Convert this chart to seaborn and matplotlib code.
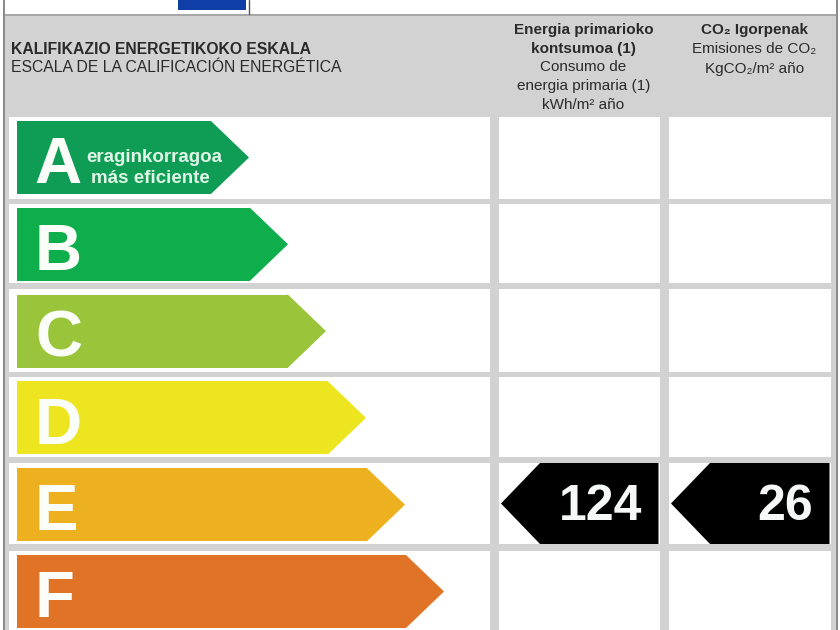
import matplotlib
matplotlib.use('Agg')
import matplotlib.pyplot as plt
from matplotlib.patches import Polygon, Rectangle
import pandas as pd
import seaborn as sns

# rating scale, arrow length in px
scale_letters = ['A', 'B', 'C', 'D', 'E', 'F']
scale_lengths = [232, 271, 309, 349, 388, 427]
rated_letter = 'E'
energy_value = 124
co2_value = 26

title_eu = 'KALIFIKAZIO ENERGETIKOKO ESKALA'
title_es = 'ESCALA DE LA CALIFICACIÓN ENERGÉTICA'
best_eu = 'eraginkorragoa'
best_es = 'más eficiente'

bar_colors = ['#0f9d56', '#0fae4c', '#9ac53a', '#ede51f', '#edb01f', '#e07325']
GREY = '#d2d2d2'
TIP = 38
PITCH = 86.8

sns.set_theme(style='white')
plt.rcParams['font.family'] = ['Liberation Sans', 'DejaVu Sans']

fig = plt.figure(figsize=(8.4, 6.3), dpi=100)

# page axes in px, y going down
ax = fig.add_axes([0, 0, 1, 1])
ax.set_xlim(0, 840)
ax.set_ylim(630, 0)
ax.axis('off')

ax.add_patch(Rectangle((3, 14), 834, 616, fc=GREY, ec='none'))
ax.add_patch(Rectangle((3, 14), 834, 2, fc='#a8a8a8', ec='none'))
ax.add_patch(Rectangle((3, 0), 2, 630, fc='#8c8c8c', ec='none'))
ax.add_patch(Rectangle((836, 0), 1.5, 630, fc='#8c8c8c', ec='none'))
ax.add_patch(Rectangle((178, 0), 68, 10, fc='#0f3fa6', ec='none'))
ax.plot([249, 249], [0, 14], color='#555555', lw=1)

columns = [(9, 490), (499, 660), (669, 831)]
rows = [(117, 199), (204, 283), (289, 372), (377, 457), (463, 544), (551, 630)]
for left, right in columns:
    for top, bottom in rows:
        ax.add_patch(Rectangle((left, top), right - left, bottom - top, fc='white', ec='none'))

ax.text(11, 49.5, title_eu, fontsize=11.3, fontweight='bold', color='#2a2a2a', va='center')
ax.text(11, 67, title_es, fontsize=11.3, color='#2a2a2a', va='center')

header_1 = [('Energia primarioko', 'bold', 30), ('kontsumoa (1)', 'bold', 49),
            ('Consumo de', 'normal', 67), ('energia primaria (1)', 'normal', 86),
            ('kWh/m² año', 'normal', 105)]
for txt, weight, y in header_1:
    ax.text(583.5, y, txt, fontsize=11, fontweight=weight, color='#2a2a2a', ha='center', va='center')
header_2 = [('CO₂ Igorpenak', 'bold', 30), ('Emisiones de CO₂', 'normal', 49),
            ('KgCO₂/m² año', 'normal', 69)]
for txt, weight, y in header_2:
    ax.text(754.5, y, txt, fontsize=11, fontweight=weight, color='#2a2a2a', ha='center', va='center')

# arrows: one category step is the row pitch of the picture
scale = pd.DataFrame({'letter': scale_letters, 'length': scale_lengths})
scale['body'] = scale['length'] - TIP
ax_bars = fig.add_axes([17 / 840, 0, 823 / 840, 1])
sns.barplot(data=scale, x='body', y='letter', hue='letter', palette=bar_colors,
            legend=False, width=0.84, saturation=1, linewidth=0, ax=ax_bars)
ax_bars.set_xlim(0, 823)
ax_bars.set_ylim((630 - 157.5) / PITCH, -157.5 / PITCH)
ax_bars.axis('off')
ax_bars.patch.set_alpha(0)

for bar, letter, color in zip(ax_bars.patches, scale_letters, bar_colors):
    x1 = bar.get_width()
    y0, y1 = bar.get_y(), bar.get_y() + bar.get_height()
    ax_bars.add_patch(Polygon([(x1 - 1, y0), (x1, y0), (x1 + TIP, (y0 + y1) / 2), (x1, y1), (x1 - 1, y1)],
                              fc=color, ec='none'))
    pos = scale_letters.index(letter)
    ax_bars.text(17 if letter == 'A' else 18, pos + 0.295, letter, fontsize=47, fontweight='bold',
                 color='#fbfdf8', ha='left', va='baseline')

ax_bars.text(69, 0.0, best_eu, fontsize=13.5, fontweight='bold', color='#dff5e6', va='center')
ax_bars.text(74, 0.24, best_es, fontsize=13.5, fontweight='bold', color='#dff5e6', va='center')

# black pointers in the rated row
top, bottom = rows[scale_letters.index(rated_letter)]
for (left, right), value in zip(columns[1:], [energy_value, co2_value]):
    mid = (top + bottom) / 2
    ax.add_patch(Polygon([(left + 2, mid), (left + 41, top), (right - 1.5, top),
                          (right - 1.5, bottom), (left + 41, bottom)],
                         fc='black', ec='none', zorder=3))
    ax.text(right - 18, 520, str(value), fontsize=36, fontweight='bold', color='#f6f8f8',
            ha='right', va='baseline', zorder=4)

fig.savefig('out.png', dpi=100)
